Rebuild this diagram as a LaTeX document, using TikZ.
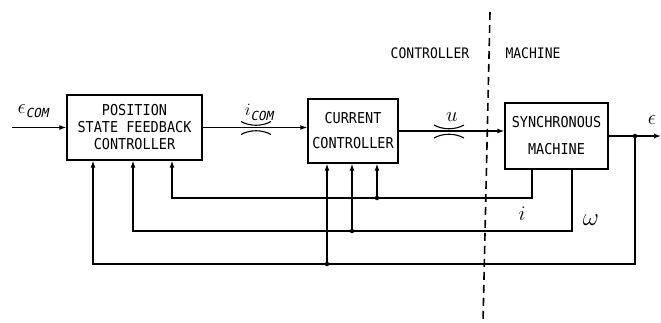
\documentclass[tikz,border=0pt]{standalone}
\usepackage{fontspec}
\usetikzlibrary{arrows.meta}
\newfontfamily\lettering[FakeStretch=0.9]{DejaVu Sans Mono}
\newfontfamily\comfont[FakeSlant=0.2]{DejaVu Sans Mono}
\begin{document}
\begin{tikzpicture}[x=1pt,y=-1pt,
  blk/.style={draw, line width=1.4pt, inner sep=0pt, align=center,
    font=\lettering\fontsize{15}{17}\selectfont},
  region/.style={font=\lettering\fontsize{14.5}{16}\selectfont},
  wire/.style={line width=1.3pt},
  arr/.style={wire, -{Latex[length=7pt,width=5pt]}},
  jdot/.style={circle, fill, inner sep=0pt, minimum size=4.5pt},
  sig/.style={inner sep=0pt, font=\fontsize{22}{24}\selectfont},
  divider/.style={line width=1.6pt, dash pattern=on 8pt off 5pt},
  busmark/.pic={
    \draw[line width=1.1pt] (-15,-6) .. controls (-6,-1) and (6,-1) .. (15,-6);
    \draw[line width=1.1pt] (-15,7) .. controls (-6,2) and (6,2) .. (15,7);
  }]
\useasboundingbox (0,0) rectangle (661,322);

% blocks
\node[blk, minimum width=135pt, minimum height=65pt] (psfc) at (134.5,127.5)
  {POSITION\\STATE FEEDBACK\\CONTROLLER};
\node[blk, minimum width=90pt, minimum height=64pt] (cc) at (353,131)
  {CURRENT\\[8pt]CONTROLLER};
\node[blk, minimum width=103pt, minimum height=66pt] (sm) at (556.5,136)
  {SYNCHRONOUS\\[10pt]MACHINE};

% region labels and divider
\node[region] (lctl) at (430,53) {CONTROLLER};
\node[region] (lmach) at (533,53) {MACHINE};
\coordinate (dtop) at (490,12);
\coordinate (dbot) at (483,322);
\draw[divider] (dtop) -- (dbot);

% forward path
\coordinate (in) at (12,127.5);
\draw[arr] (in) -- (psfc.west);
\draw[arr] (psfc.east) -- (psfc.east -| cc.west);
\draw[arr] (cc.east) -- (cc.east -| sm.west);
\coordinate (out) at (661,136);
\draw[arr] (sm.east) -- (out);
\pic at (256,127.5) {busmark};
\pic at (449,131) {busmark};

% signal labels
\node[sig] (ecom) at (33,111) {$\epsilon$\raisebox{-4pt}{\comfont\fontsize{12.5}{12}\selectfont COM}};
\node[sig] (icom) at (259,112) {\fontsize{17}{17}\selectfont$i$\raisebox{-5pt}{\comfont\fontsize{12.5}{12}\selectfont COM}};
\node[sig] (ulab) at (452,117) {$u$};
\node[sig] (eout) at (652,120) {$\epsilon$};
\node[sig] (ilab) at (522,214) {$i$};
\node[sig, font=\fontsize{30}{32}\selectfont] (wlab) at (591,220) {$\omega$};

% feedback: position epsilon
\node[jdot] (je) at (635,136) {};
\coordinate (eL) at (93,264);
\node[jdot] (eJ) at (327,264) {};
\draw[arr] (je.center) |- (eL) -- (eL |- psfc.south);
\draw[arr] (eJ.center) -- (eJ |- cc.south);

% feedback: speed omega
\coordinate (wR) at (572,231);
\coordinate (wL) at (133,231);
\node[jdot] (wJ) at (352,231) {};
\draw[arr] (sm.south -| wR) -- (wR) -- (wL) -- (wL |- psfc.south);
\draw[arr] (wJ.center) -- (wJ |- cc.south);

% feedback: current i
\coordinate (iR) at (532,198);
\coordinate (iL) at (172,198);
\node[jdot] (iJ) at (377,198) {};
\draw[arr] (sm.south -| iR) -- (iR) -- (iL) -- (iL |- psfc.south);
\draw[arr] (iJ.center) -- (iJ |- cc.south);
\end{tikzpicture}
\end{document}
